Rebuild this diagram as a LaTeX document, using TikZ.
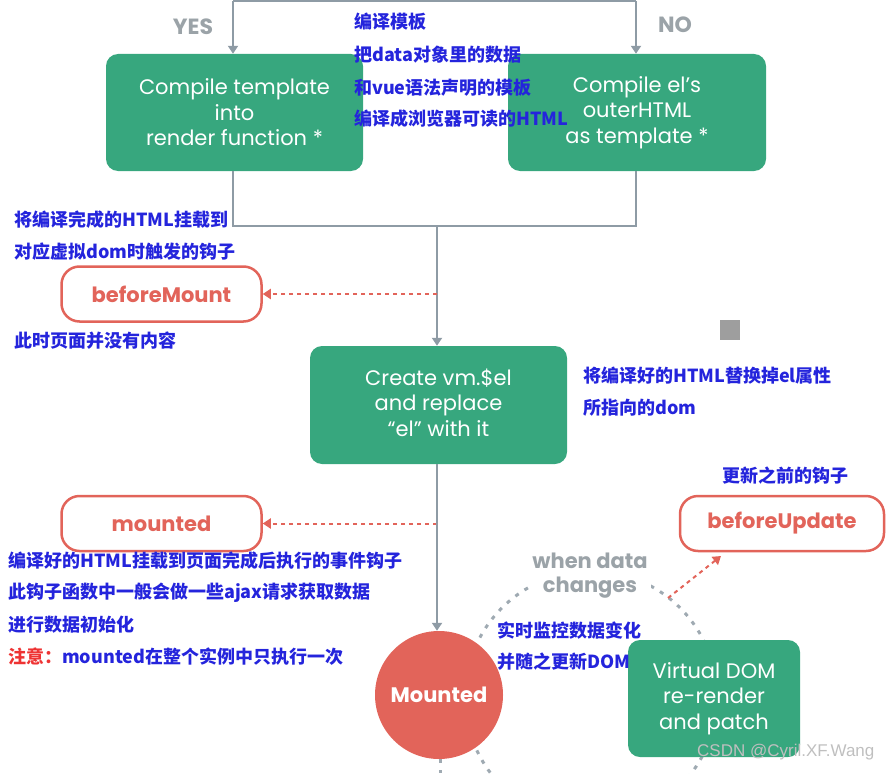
\documentclass[tikz,border=0pt]{standalone}
\usepackage{fontspec}
\setmainfont{Poppins}
\newfontfamily\cjk{Noto Sans CJK SC}
\newfontfamily\wm{Liberation Sans}
\usetikzlibrary{arrows.meta,calc}
\definecolor{vgreen}{HTML}{37A77E}
\definecolor{vred}{HTML}{E2645A}
\definecolor{vgray}{HTML}{8E9BA5}
\definecolor{lgray}{HTML}{9BA3A8}
\definecolor{cblue}{HTML}{2424DC}
\definecolor{cred}{HTML}{EE3333}
\begin{document}
\begin{tikzpicture}[x=1pt,y=-1pt,
  gbox/.style={fill=vgreen, rounded corners=12pt, text=white, align=center,
    font=\fontsize{21}{25.5}\selectfont, inner sep=0pt},
  hook/.style={draw=vred, line width=2.5pt, fill=white, rounded corners=18pt,
    text=vred, font=\bfseries\fontsize{21}{24}\selectfont,
    minimum width=200pt, minimum height=55pt, inner sep=0pt},
  note/.style={anchor=west, text=cblue, font=\cjk\bfseries\fontsize{18}{22}\selectfont, inner sep=0pt},
  glabel/.style={text=lgray, font=\bfseries\fontsize{21}{24}\selectfont, align=center, inner sep=0pt},
  flow/.style={draw=vgray, line width=2.6pt},
  arr/.style={flow, -{Triangle[width=10pt,length=8pt]}},
  hookarr/.style={draw=vred, line width=2pt, dash pattern=on 4pt off 4pt, -{Triangle[width=10pt,length=8pt]}},
  cycle/.style={draw=vgray!85, line width=3pt, dash pattern=on 4pt off 7pt}
]
\useasboundingbox (0,0) rectangle (896,773);

% dotted update cycle (behind everything)
\coordinate (cyc) at (591,697);
\draw[cycle] (cyc) circle[radius=126pt];

% top flow
\coordinate (t1) at (233,1);
\coordinate (t2) at (636,1);
\draw[flow] (t1) -- (t2);

\node[gbox, minimum width=257pt, minimum height=117pt] (c1) at (234.5,112.5)
  {Compile template\\into\\render function *};
\node[gbox, minimum width=258pt, minimum height=117pt] (c2) at (637,112.5)
  {Compile el’s\\outerHTML\\as template *};
\draw[arr] (t1) -- (t1 |- c1.north);
\draw[arr] (t2) -- (t2 |- c2.north);

\node[glabel, font=\bfseries\fontsize{22}{24}\selectfont] (yes) at (193,27) {YES};
\node[glabel, font=\bfseries\fontsize{22}{24}\selectfont] (no) at (675,25) {NO};

% merge
\coordinate (m) at (437,226);
\draw[flow] (c1.south -| t1) -- (t1 |- m) -- (t2 |- m) -- (c2.south -| t2);

\node[gbox, minimum width=257pt, minimum height=118pt] (cr) at (438.5,405)
  {Create vm.\$el\\and replace\\“el” with it\vphantom{p}};
\draw[arr] (m) -- (m |- cr.north);

% beforeMount
\node[hook] (bm) at (161.5,294) {beforeMount};
\coordinate (bmc) at (437,294);
\draw[hookarr] (bmc) -- (bm.east);

% mounted hook
\node[hook] (md) at (161.5,523.5) {mounted};
\coordinate (mdc) at (437,523.5);
\draw[hookarr] (mdc) -- (md.east);

% Mounted circle
\node[circle, fill=vred, minimum size=128pt, inner sep=0pt, text=white,
  font=\bfseries\fontsize{21}{24}\selectfont] (mo) at (439,695) {Mounted};
\draw[arr] (cr.south -| m) -- (m |- mo.north);
\coordinate (down) at (440,773);
\draw[cycle] (mo.south -| down) -- (down);

% update cycle
\node[glabel, fill=white, inner sep=3pt] (wdc) at (590,576) {when data\\changes};
\node[gbox, minimum width=172pt, minimum height=117pt] (vd) at (714,698.5)
  {Virtual DOM\\re-render\\and patch};
\node[hook, minimum width=204pt] (bu) at (782,523.5) {beforeUpdate};
\coordinate (bus) at (668,598);
\coordinate (bue) at (721,556);
\draw[hookarr] (bus) -- (bue);

% notes
\node[note] (n1) at (354,22) {编译模板};
\node[note] (n2) at (354,55) {把data对象里的数据};
\node[note] (n3) at (354,88) {和vue语法声明的模板};
\node[note] (n4) at (354,119) {编译成浏览器可读的HTML};
\node[note] (n5) at (14,220) {将编译完成的HTML挂载到};
\node[note] (n6) at (14,252) {对应虚拟dom时触发的钩子};
\node[note] (n7) at (14,341) {此时页面并没有内容};
\node[note] (n8) at (583,376) {将编译好的HTML替换掉el属性};
\node[note] (n9) at (583,408) {所指向的dom};
\node[note] (n10) at (722,476) {更新之前的钩子};
\node[note] (n11) at (8,561) {编译好的HTML挂载到页面完成后执行的事件钩子};
\node[note] (n12) at (8,593) {此钩子函数中一般会做一些ajax请求获取数据};
\node[note] (n13) at (8,625) {进行数据初始化};
\node[note] (n14) at (8,657) {{\color{cred}注意：}mounted在整个实例中只执行一次};
\node[note] (n15) at (497,631) {实时监控数据变化};
\node[note] (n16) at (497,662) {并随之更新DOM};

% gray square
\fill[black!38] (720,320) rectangle (740,340);

% watermark
\node[anchor=west, inner sep=0pt, text=black!25, font=\wm\fontsize{17}{20}\selectfont] (wm) at (697,752) {CSDN @Cyril.XF.Wang};
\end{tikzpicture}
\end{document}
